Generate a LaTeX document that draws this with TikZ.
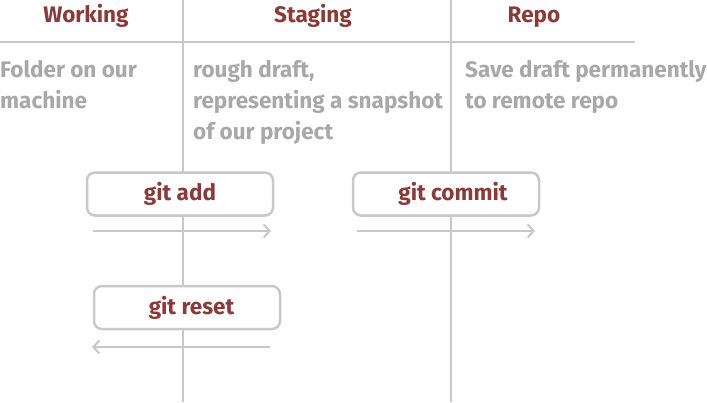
\documentclass[tikz,border=0pt]{standalone}
\usepackage{fontspec}
\setmainfont{Fira Sans}
\usepackage{xcolor}
\usepackage{tikz}
\usetikzlibrary{arrows.meta}

\definecolor{gitred}{HTML}{8B3A3A}
\definecolor{notegray}{HTML}{A8A8A8}
\definecolor{rulegray}{HTML}{C8C8C8}

\tikzset{
  head/.style={text=gitred, font=\bfseries\fontsize{22.5}{31}\selectfont, inner sep=0pt, anchor=base},
  note/.style={text=notegray, font=\bfseries\fontsize{22.5}{31}\selectfont, inner sep=0pt, anchor=base west, align=left},
  rule/.style={draw=rulegray, line width=2.7pt},
  gitbox/.style={draw=rulegray, line width=2.5pt, rounded corners=8pt, fill=white,
    minimum width=186pt, minimum height=43pt, inner sep=0pt, text=gitred,
    font=\bfseries\fontsize{22.5}{31}\selectfont},
  flow/.style={draw=rulegray, line width=2pt, -{Straight Barb[length=6pt, width=13pt, line width=2pt]}}
}

\begin{document}
\begin{tikzpicture}[x=1pt, y=-1pt]
            \useasboundingbox (0, 0) rectangle (707, 402);

            \node[head] (working) at (86, 22.5) {Working};
            \node[head] (staging) at (313, 22.5) {Staging};
            \node[head] (repo) at (534, 22.5) {Repo};

            \coordinate (ruleL) at (0, 42);
            \coordinate (ruleR) at (635, 42);
            \coordinate (colAtop) at (183, 0);
            \coordinate (colAbot) at (183, 402);
            \coordinate (colBtop) at (451, 0);
            \coordinate (colBbot) at (451, 402);

            \draw[rule] (ruleL) -- (ruleR); % header rule
            \draw[rule] (colAtop) -- (colAbot); % working | staging
            \draw[rule] (colBtop) -- (colBbot); % staging | repo

            % base anchor sits on the last line
            \node[note] (wnote) at (0, 108) {Folder on our\\machine};
            \node[note] (snote) at (193, 139) {rough draft,\\representing a snapshot\\of our project};
            \node[note] (rnote) at (465, 108) {Save draft permanently\\to remote repo};

            \node[gitbox] (add) at (180, 194) {git add};
            \node[gitbox] (commit) at (446, 194) {\hspace{14pt}git commit};
            \node[gitbox] (reset) at (187, 307.5) {\hspace{9pt}git reset};

            \coordinate (addS) at (93, 231);
            \coordinate (addE) at (271, 231);
            \coordinate (commitS) at (357, 231);
            \coordinate (commitE) at (535, 231);
            \coordinate (resetS) at (270, 347);
            \coordinate (resetE) at (92, 347);

            \draw[flow] (addS) -- (addE); % working -> staging
            \draw[flow] (commitS) -- (commitE); % staging -> repo
            \draw[flow] (resetS) -- (resetE); % staging -> working
        \end{tikzpicture}
\end{document}
